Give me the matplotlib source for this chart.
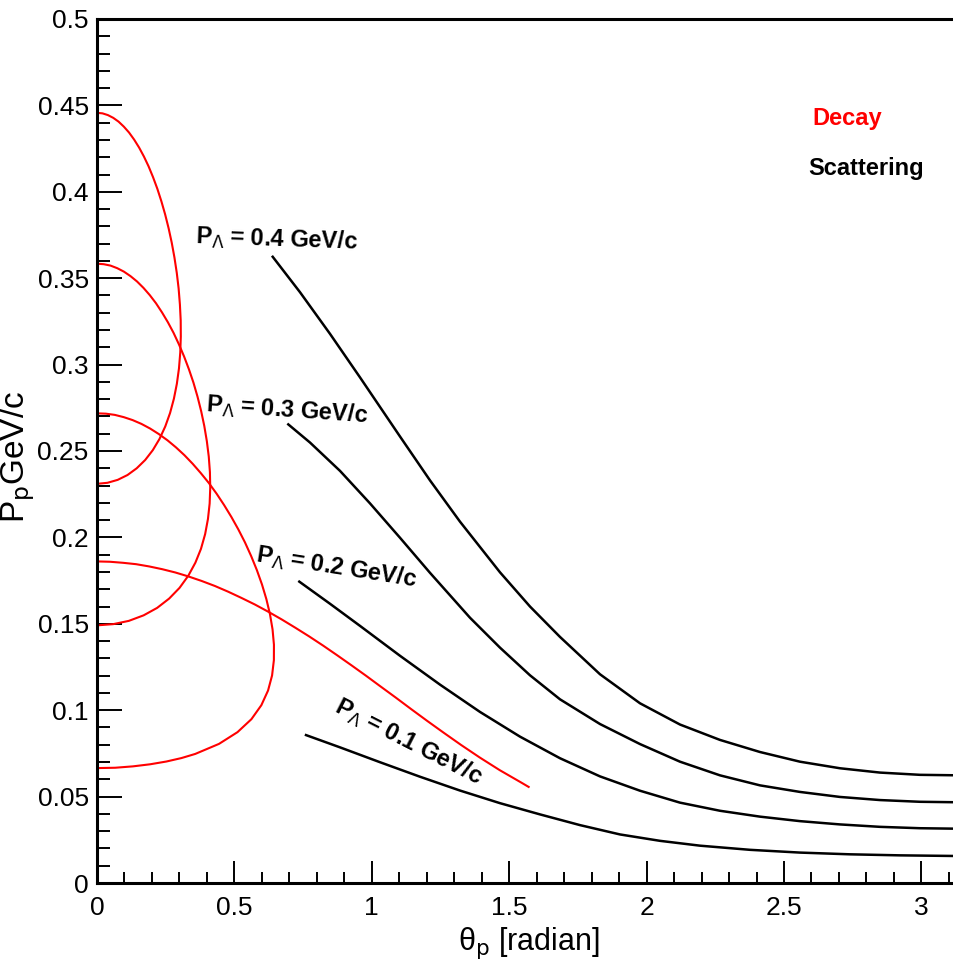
"""Lambda -> p pi- decay kinematics vs. scattering: proton momentum against lab angle."""

import matplotlib
matplotlib.use("Agg")
import matplotlib.pyplot as plt
from matplotlib.ticker import MultipleLocator, FuncFormatter

# ---- decay curves (red): theta_p [rad], P_p [GeV/c]
DECAY_04_THETA = [0, 0.0198, 0.0395, 0.0591, 0.0785, 0.0977, 0.1166, 0.1352, 0.1532, 0.1708,
                  0.1878, 0.2041, 0.2197, 0.2343, 0.2480, 0.2606, 0.2719, 0.2818, 0.2903, 0.2970,
                  0.3017, 0.3046, 0.3050, 0.3030, 0.2983, 0.2906, 0.2799, 0.2659, 0.2484, 0.2275,
                  0.2031, 0.1754, 0.1445, 0.1110, 0.0753, 0.0381, 0]
DECAY_04_P = [0.4457, 0.4454, 0.4444, 0.4428, 0.4406, 0.4377, 0.4343, 0.4302, 0.4256, 0.4204,
              0.4147, 0.4084, 0.4017, 0.3945, 0.3869, 0.3789, 0.3706, 0.3620, 0.3531, 0.3441,
              0.3348, 0.3255, 0.3162, 0.3070, 0.2978, 0.2889, 0.2803, 0.2720, 0.2642, 0.2570,
              0.2505, 0.2448, 0.2400, 0.2361, 0.2333, 0.2316, 0.2310]

DECAY_03_THETA = [0, 0.0246, 0.0491, 0.0736, 0.0979, 0.1219, 0.1457, 0.1691, 0.1921, 0.2147,
                  0.2366, 0.2580, 0.2785, 0.2982, 0.3169, 0.3345, 0.3509, 0.3657, 0.3790, 0.3904,
                  0.3997, 0.4067, 0.4109, 0.4121, 0.4099, 0.4038, 0.3935, 0.3784, 0.3581, 0.3322,
                  0.3004, 0.2626, 0.2188, 0.1697, 0.1159, 0.0589, 0]
DECAY_03_P = [0.3584, 0.3581, 0.3573, 0.3558, 0.3538, 0.3512, 0.3481, 0.3444, 0.3402, 0.3355,
              0.3302, 0.3245, 0.3184, 0.3117, 0.3047, 0.2973, 0.2896, 0.2815, 0.2731, 0.2645,
              0.2557, 0.2468, 0.2378, 0.2287, 0.2196, 0.2107, 0.2019, 0.1934, 0.1854, 0.1778,
              0.1708, 0.1646, 0.1592, 0.1549, 0.1517, 0.1498, 0.1491]

DECAY_02_THETA = [0, 0.0324, 0.0648, 0.0972, 0.1294, 0.1615, 0.1933, 0.2250, 0.2564, 0.2874,
                  0.3180, 0.3482, 0.3778, 0.4069, 0.4352, 0.4626, 0.4891, 0.5144, 0.5385, 0.5610,
                  0.5817, 0.6003, 0.6163, 0.6294, 0.6388, 0.6439, 0.6437, 0.6371, 0.6225, 0.5981,
                  0.5619, 0.5113, 0.4439, 0.3576, 0.3073, 0.2524, 0.1933, 0.1309, 0.0661, 0]
DECAY_02_P = [0.2718, 0.2716, 0.2709, 0.2696, 0.2679, 0.2657, 0.2630, 0.2598, 0.2562, 0.2521,
              0.2476, 0.2426, 0.2372, 0.2315, 0.2253, 0.2187, 0.2118, 0.2046, 0.1971, 0.1892,
              0.1811, 0.1728, 0.1643, 0.1556, 0.1468, 0.1379, 0.1290, 0.1201, 0.1114, 0.1029,
              0.0948, 0.0873, 0.0805, 0.0747, 0.0723, 0.0703, 0.0687, 0.0675, 0.0667, 0.0665]

DECAY_01_THETA = [0, 0.0474, 0.0948, 0.1423, 0.1898, 0.2374, 0.2850, 0.3328, 0.3807, 0.4288,
                  0.4770, 0.5254, 0.5741, 0.6231, 0.6724, 0.7220, 0.7721, 0.8227, 0.8739, 0.9258,
                  0.9785, 1.0322, 1.0872, 1.1435, 1.2017, 1.2622, 1.3257, 1.3931, 1.4656, 1.5452,
                  1.5708]
DECAY_01_P = [0.1861, 0.1859, 0.1853, 0.1845, 0.1832, 0.1816, 0.1797, 0.1774, 0.1748, 0.1719,
              0.1686, 0.1650, 0.1612, 0.1570, 0.1525, 0.1477, 0.1427, 0.1374, 0.1318, 0.1260,
              0.1200, 0.1137, 0.1073, 0.1006, 0.0938, 0.0869, 0.0798, 0.0726, 0.0653, 0.0580,
              0.0556]

# ---- scattering curves (black)
SCAT_04_THETA = [0.6394, 0.7387, 0.8479, 0.9571, 1.1026, 1.2118, 1.3210, 1.4665, 1.5757, 1.6849,
                 1.8304, 1.9760, 2.1216, 2.2671, 2.4127, 2.5582, 2.7038, 2.8493, 2.9949, 3.1404]
SCAT_04_P = [0.3624, 0.3419, 0.3178, 0.2926, 0.2584, 0.2330, 0.2091, 0.1798, 0.1600, 0.1424,
             0.1208, 0.1040, 0.0917, 0.0828, 0.0758, 0.0702, 0.0664, 0.0639, 0.0626, 0.0623]

SCAT_03_THETA = [0.6961, 0.7751, 0.8843, 0.9934, 1.1026, 1.2118, 1.3574, 1.4665, 1.5757, 1.6849,
                 1.8304, 1.9760, 2.1216, 2.2671, 2.4127, 2.5582, 2.7038, 2.8493, 2.9949, 3.1404]
SCAT_03_P = [0.2654, 0.2549, 0.2385, 0.2197, 0.1998, 0.1795, 0.1535, 0.1362, 0.1202, 0.1063,
             0.0920, 0.0804, 0.0702, 0.0623, 0.0565, 0.0527, 0.0498, 0.0480, 0.0470, 0.0467]

SCAT_02_THETA = [0.7362, 0.8479, 0.9571, 1.1026, 1.2482, 1.3937, 1.5393, 1.6849, 1.8304, 1.9760,
                 2.1216, 2.2671, 2.4127, 2.5582, 2.7038, 2.8493, 2.9949, 3.1404]
SCAT_02_P = [0.1744, 0.1616, 0.1488, 0.1315, 0.1148, 0.0990, 0.0847, 0.0722, 0.0617, 0.0534,
             0.0465, 0.0418, 0.0384, 0.0358, 0.0339, 0.0325, 0.0317, 0.0314]

SCAT_01_THETA = [0.7606, 0.8843, 1.0298, 1.1754, 1.3210, 1.4665, 1.6121, 1.7576, 1.9032, 2.0488,
                 2.1943, 2.3763, 2.5582, 2.7402, 2.9221, 3.1404]
SCAT_01_P = [0.0856, 0.0785, 0.0699, 0.0615, 0.0535, 0.0462, 0.0397, 0.0335, 0.0281, 0.0244,
             0.0216, 0.0192, 0.0176, 0.0166, 0.0160, 0.0156]

P_LAMBDA = ["0.4", "0.3", "0.2", "0.1"]

RED, BLACK = "#ff0000", "#000000"
FONT = ["Liberation Sans", "DejaVu Sans"]


def main():
    plt.rcParams.update({
        "font.family": FONT,
        "mathtext.fontset": "dejavusans",
        "axes.linewidth": 2.2,
    })
    fig = plt.figure(figsize=(9.54, 9.80), dpi=100)
    # frame runs to theta = pi, just past the right edge of the canvas
    ax = fig.add_axes([97 / 954, 97 / 980, 863.3 / 954, 864 / 980])

    for th, p in [(DECAY_04_THETA, DECAY_04_P), (DECAY_03_THETA, DECAY_03_P),
                  (DECAY_02_THETA, DECAY_02_P), (DECAY_01_THETA, DECAY_01_P)]:
        ax.plot(th, p, color=RED, lw=1.5, solid_joinstyle="round")
    for th, p in [(SCAT_04_THETA, SCAT_04_P), (SCAT_03_THETA, SCAT_03_P),
                  (SCAT_02_THETA, SCAT_02_P), (SCAT_01_THETA, SCAT_01_P)]:
        ax.plot(th, p, color=BLACK, lw=1.8, solid_joinstyle="round")

    ax.set_xlim(0, 3.14159)
    ax.set_ylim(0, 0.5)
    ax.spines["right"].set_visible(False)

    fmt = FuncFormatter(lambda v, _: f"{v:g}")
    ax.xaxis.set_major_locator(MultipleLocator(0.5))
    ax.xaxis.set_minor_locator(MultipleLocator(0.1))
    ax.yaxis.set_major_locator(MultipleLocator(0.05))
    ax.yaxis.set_minor_locator(MultipleLocator(0.01))
    ax.xaxis.set_major_formatter(fmt)
    ax.yaxis.set_major_formatter(fmt)
    ax.tick_params(axis="both", which="both", direction="in", top=False, right=False,
                   width=1.4, labelsize=19)
    ax.tick_params(axis="x", which="major", length=16, pad=9)
    ax.tick_params(axis="x", which="minor", length=8)
    ax.tick_params(axis="y", which="major", length=18, pad=6)
    ax.tick_params(axis="y", which="minor", length=9)

    ax.set_xlabel("θ$_{\\mathrm{p}}$ [radian]", fontsize=22, labelpad=4)
    ax.set_ylabel("P$_{\\mathrm{p}}$GeV/c", fontsize=24)
    # ylabel anchor is its right edge (rotated text bottom)
    ax.yaxis.set_label_coords(-0.069, 0.493)

    # curve labels: (x, y, rotation) in data units, left/baseline anchored
    spots = [(0.357, 0.3700, -2), (0.393, 0.2725, -4), (0.575, 0.1860, -9), (0.857, 0.0990, -27)]
    for lab, (x, y, rot) in zip(P_LAMBDA, spots):
        ax.text(x, y, f"P$_{{\\Lambda}}$ = {lab} GeV/c", fontsize=17, fontweight="bold",
                rotation=rot, rotation_mode="anchor", ha="left", va="baseline")

    ax.text(2.602, 0.4387, "Decay", color=RED, fontsize=17, fontweight="bold")
    ax.text(2.587, 0.4097, "Scattering", color=BLACK, fontsize=17, fontweight="bold")

    fig.savefig("out.png", dpi=100)


if __name__ == "__main__":
    main()
